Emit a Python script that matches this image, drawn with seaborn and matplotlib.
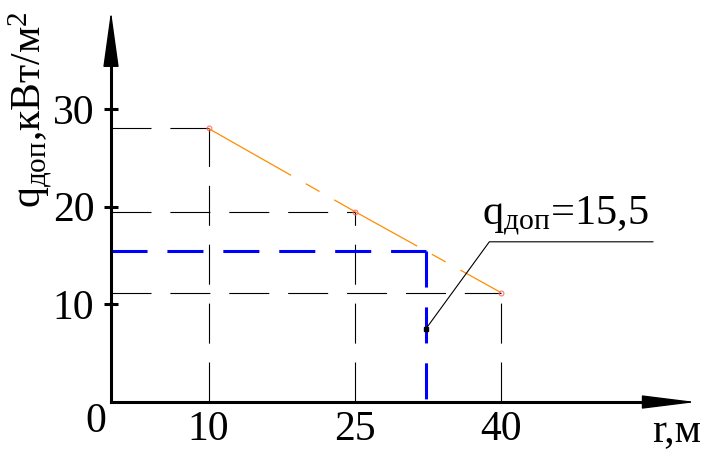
import matplotlib
matplotlib.use("Agg")  # no display here
import matplotlib.pyplot as plt
import seaborn as sns

# values
r_points = [10, 25, 40]          # r, м
q_points = [28, 19.5, 11.2]      # q доп, кВт/м2
r_dop = 32.3
q_dop = 15.5
x_ticks = [10, 25, 40]
y_ticks = [10, 20, 30]
x_axis_end = 60
y_axis_end = 40

sns.set_theme(style="white")
plt.rcParams["font.family"] = ["Liberation Serif", "DejaVu Serif"]
plt.rcParams["mathtext.fontset"] = "custom"
plt.rcParams["mathtext.rm"] = "Liberation Serif"
plt.rcParams["mathtext.it"] = "Liberation Serif:italic"
plt.rcParams["mathtext.bf"] = "Liberation Serif:bold"
plt.rcParams["mathtext.default"] = "rm"
plt.rcParams["text.color"] = "black"
plt.rcParams["axes.labelcolor"] = "black"
plt.rcParams["xtick.color"] = "black"
plt.rcParams["ytick.color"] = "black"

fig = plt.figure(figsize=(7.13, 4.63), dpi=100)
ax = fig.add_axes([0, 0, 1, 1])
ax.set_xlim(-11.385, 61.74)
ax.set_ylim(-6.24, 41.15)

# black dashed guides from each point to both axes
for r, q in zip(r_points, q_points):
    ax.plot([0, r], [q, q], color="black", lw=0.8, linestyle=(0, (36, 17)))
    ax.plot([r, r], [0, q], color="black", lw=0.8, linestyle=(0, (36, 17)))

# the q(r) line
sns.lineplot(x=r_points, y=q_points, color="#ff8c00", lw=0.9,
             linestyle=(0, (76, 13.5, 12.6, 13.5)), marker="o", markersize=3.5,
             markerfacecolor="none", markeredgecolor="#ff7070", ax=ax)

# blue read-off at q_dop
ax.plot([0, r_dop], [q_dop, q_dop], color="#0000ff", lw=2.2, linestyle=(0, (11.8, 6.5)))
ax.plot([r_dop, r_dop], [q_dop, 0], color="#0000ff", lw=2.2, linestyle=(0, (11.8, 6.5)))

# callout
ax.plot([r_dop, 38.8, 55.6], [7.5, 16.4, 16.4], color="black", lw=0.8)
ax.plot([r_dop], [7.5], marker="s", markersize=2.5, color="black")
ax.text(38.05, 18.12, r"$q_{доп}$=" + f"{q_dop:.1f}".replace(".", ","),
        fontsize=30.5, ha="left", va="baseline", color="black")

# axes with arrows
for s in ["top", "right"]:
    ax.spines[s].set_visible(False)
ax.spines["left"].set_position(("data", 0))
ax.spines["bottom"].set_position(("data", 0))
ax.spines["left"].set_bounds(0, y_axis_end - 4)
ax.spines["bottom"].set_bounds(0, x_axis_end - 4)
for s in ["left", "bottom"]:
    ax.spines[s].set_linewidth(2.2)
    ax.spines[s].set_color("black")

ax.annotate("", xy=(0, y_axis_end), xytext=(0, y_axis_end - 5.1),
            arrowprops=dict(arrowstyle="-|>,head_length=3.6,head_width=0.5",
                            color="black", lw=1, shrinkA=0, shrinkB=0, mutation_scale=10))
ax.annotate("", xy=(x_axis_end, 0), xytext=(x_axis_end - 4.9, 0),
            arrowprops=dict(arrowstyle="-|>,head_length=3.45,head_width=0.43",
                            color="black", lw=1, shrinkA=0, shrinkB=0, mutation_scale=10))

ax.set_xticks(x_ticks)
ax.set_xticklabels([str(t) for t in x_ticks])
ax.set_yticks(y_ticks)
ax.set_yticklabels([str(t) for t in y_ticks])
ax.tick_params(axis="x", length=0, labelsize=30, pad=5.8)
ax.tick_params(axis="y", direction="inout", length=10, width=2.2, labelsize=30,
               pad=7, left=True)
for lbl in ax.get_yticklabels():
    lbl.set_va("center_baseline")

ax.set_ylabel(r"$q_{доп}$,кВт/м$^2$", fontsize=30)
ax.yaxis.set_label_coords(-7.2, 29.94, transform=ax.transData)
ax.yaxis.label.set_va("baseline")

ax.set_xlabel("r,м", fontsize=30)
ax.xaxis.set_label_coords(55.5, -4.1, transform=ax.transData)
ax.xaxis.label.set_ha("left")
ax.xaxis.label.set_va("baseline")

ax.text(-1.54, -3.07, "0", fontsize=30, ha="center", va="baseline", color="black")

fig.savefig("out.png", dpi=100)
